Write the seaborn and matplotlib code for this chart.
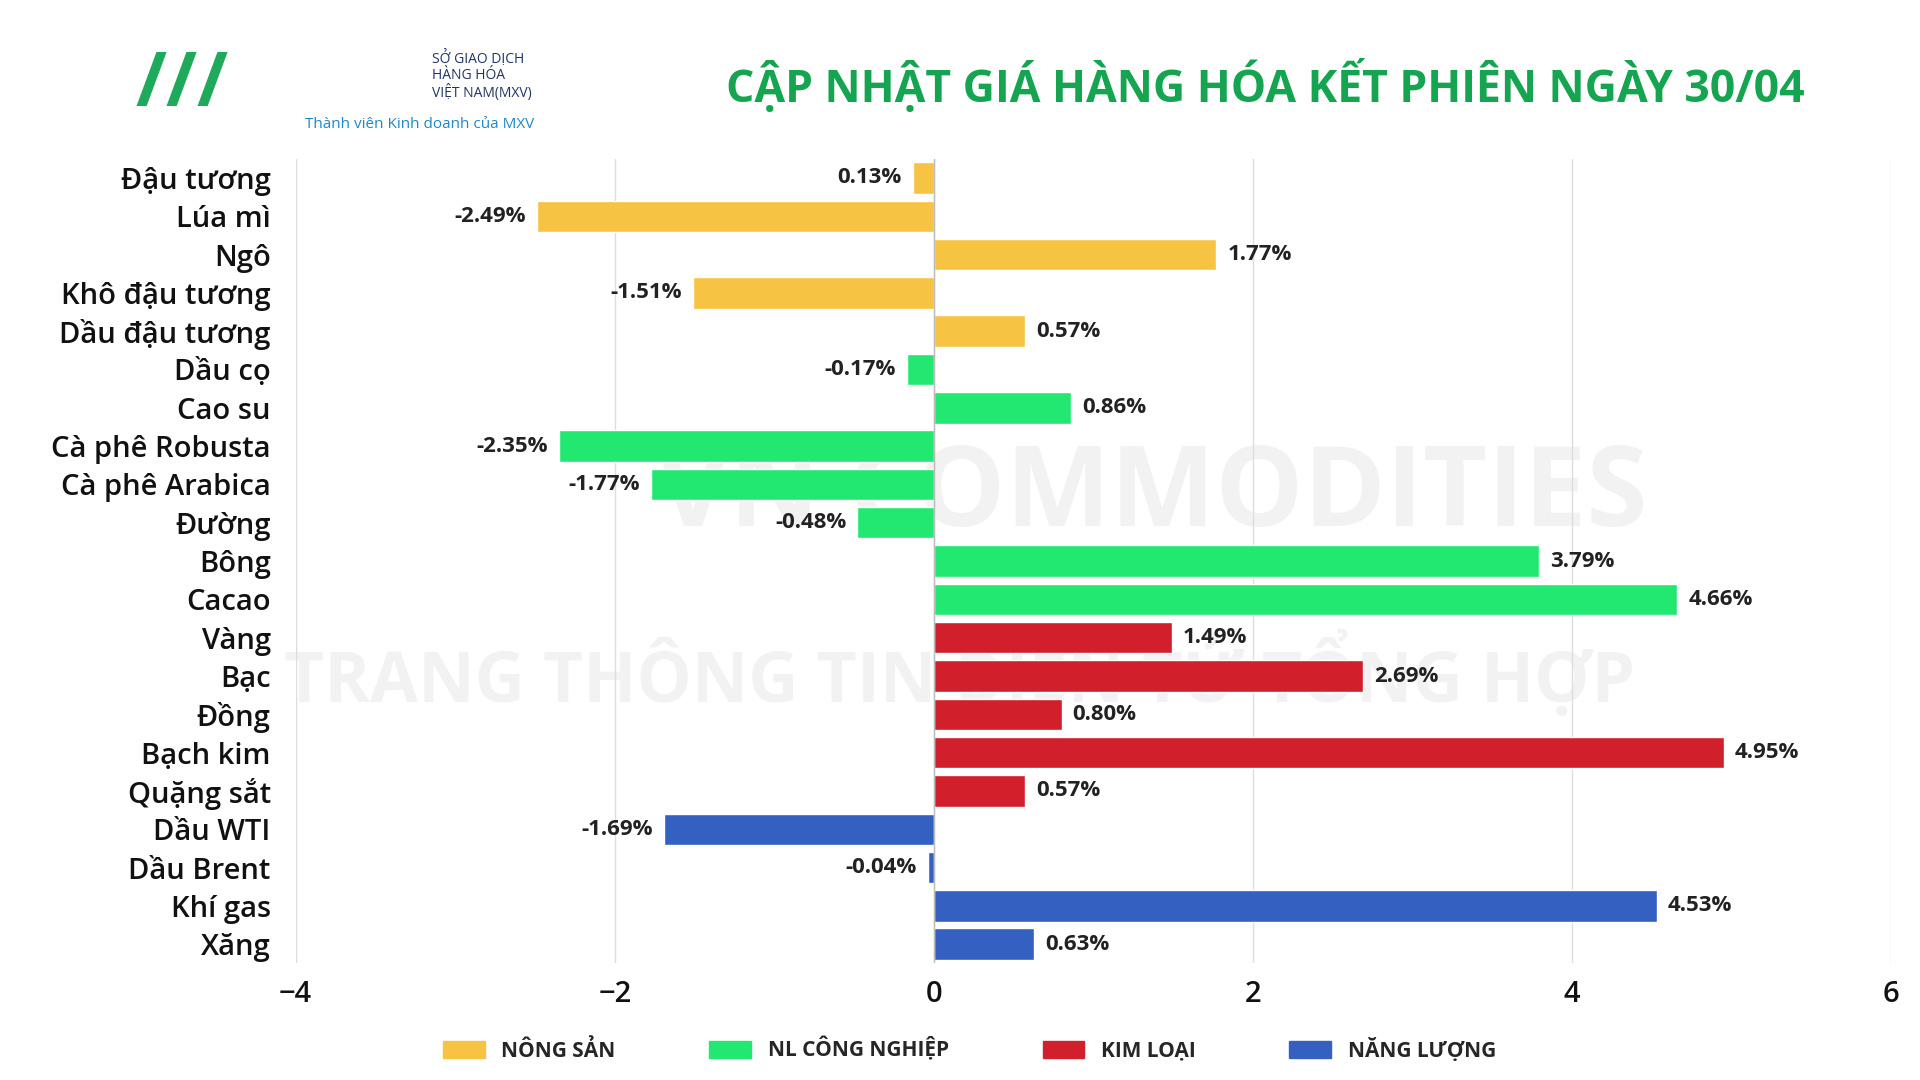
import matplotlib
matplotlib.use("Agg")
import matplotlib.pyplot as plt
import seaborn as sns
import pandas as pd
from matplotlib.patches import Patch

categories = ["Đậu tương","Lúa mì","Ngô","Khô đậu tương","Dầu đậu tương","Dầu cọ","Cao su",
              "Cà phê Robusta","Cà phê Arabica","Đường","Bông","Cacao","Vàng","Bạc","Đồng",
              "Bạch kim","Quặng sắt","Dầu WTI","Dầu Brent","Khí gas","Xăng"]
values = [-0.13,-2.49,1.77,-1.51,0.57,-0.17,0.86,-2.35,-1.77,-0.48,3.79,4.66,1.49,2.69,0.80,
          4.95,0.57,-1.69,-0.04,4.53,0.63]
labels = ["0.13%","-2.49%","1.77%","-1.51%","0.57%","-0.17%","0.86%","-2.35%","-1.77%","-0.48%",
          "3.79%","4.66%","1.49%","2.69%","0.80%","4.95%","0.57%","-1.69%","-0.04%","4.53%","0.63%"]
groups = ["NÔNG SẢN"]*5 + ["NL CÔNG NGHIỆP"]*7 + ["KIM LOẠI"]*5 + ["NĂNG LƯỢNG"]*4
group_names = ["NÔNG SẢN","NL CÔNG NGHIỆP","KIM LOẠI","NĂNG LƯỢNG"]
colors = ["#F6C343","#22E872","#D21F2C","#3461C1"]

df = pd.DataFrame({"cat":categories,"val":values,"grp":groups})
sns.set_theme(style="white")
plt.rcParams["font.family"] = ["Open Sans","DejaVu Sans"]

fig = plt.figure(figsize=(19.2,10.8), dpi=100)
ax = fig.add_axes([0.154,0.108,0.831,0.745])
sns.barplot(data=df, x="val", y="cat", hue="grp", hue_order=group_names,
            palette=dict(zip(group_names,colors)), dodge=False, width=0.82, saturation=1,
            orient="h", ax=ax, legend=False)
ax.set_xlim(-4,6)
ax.set_ylim(20.5,-0.5)
ax.set_xticks([-4,-2,0,2,4,6])
ax.xaxis.grid(True, color="#DDDDDD", lw=1)
ax.set_axisbelow(True)
ax.axvline(0, color="#BBBBBB", lw=1)
for s in ax.spines.values():
    s.set_visible(False)
ax.set_xlabel(""); ax.set_ylabel("")
ax.tick_params(axis="y", labelsize=21, length=0, pad=18, labelcolor="#111111")
ax.tick_params(axis="x", labelsize=21, length=0, pad=12, labelcolor="#111111")
for t in ax.get_yticklabels()+ax.get_xticklabels():
    t.set_fontweight("semibold")
for i,(v,l) in enumerate(zip(values,labels)):
    if v >= 0:
        ax.text(v+0.07, i, l, va="center", ha="left", fontsize=16, fontweight="bold", color="#222222")
    else:
        ax.text(v-0.07, i, l, va="center", ha="right", fontsize=16, fontweight="bold", color="#222222")

# watermark
ax.text(0.6,0.54,"VN COMMODITIES", transform=fig.transFigure, fontsize=80, fontweight="bold",
        color="#000000", alpha=0.05, ha="center", va="center", zorder=0)
ax.text(0.50,0.375,"TRANG THÔNG TIN ĐIỆN TỬ TỔNG HỢP", transform=fig.transFigure, fontsize=50,
        fontweight="bold", color="#000000", alpha=0.05, ha="center", va="center", zorder=0)

fig.text(0.659,0.92,"CẬP NHẬT GIÁ HÀNG HÓA KẾT PHIÊN NGÀY 30/04", fontsize=32, fontweight="bold",
         color="#15A450", ha="center", va="center")
fig.text(0.225,0.93,"SỞ GIAO DỊCH\nHÀNG HÓA\nVIỆT NAM(MXV)", fontsize=10, color="#223366", ha="left", va="center", linespacing=1.1)
fig.text(0.159,0.885,"Thành viên Kinh doanh của MXV", fontsize=11, color="#1E88C8", ha="left", va="center")
fig.text(0.095,0.92,"///", fontsize=54, fontweight="bold", color="#1EAA5A", ha="center", va="center")

handles = [Patch(color=c, label=g) for g,c in zip(group_names,colors)]
fig.legend(handles=handles, loc="center", bbox_to_anchor=(0.505,0.028), ncol=4, frameon=False,
           prop={"size":15,"weight":"bold"}, handlelength=2, handleheight=0.9, columnspacing=4.5)
fig.savefig("out.png", dpi=100, facecolor="white")
